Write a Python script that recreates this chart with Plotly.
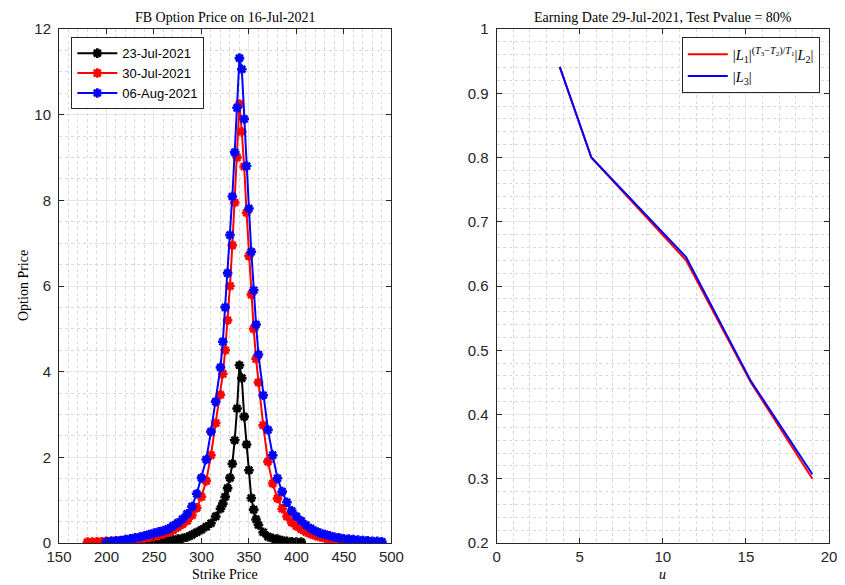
import plotly.graph_objects as go

# ---- left panel data: option prices vs strike ----
strike_0723 = [235, 240, 245, 250, 255, 260, 265, 270, 275, 280, 285, 290, 295, 300, 305, 310, 315,
               320, 322.5, 325, 327.5, 330, 332.5, 335, 337.5, 340, 342.5, 345, 347.5, 350, 352.5,
               355, 357.5, 360, 365, 370, 375, 380, 385, 390, 395, 400, 405]
price_0723 = [0.0, 0.01, 0.01, 0.02, 0.03, 0.04, 0.05, 0.07, 0.09, 0.11, 0.14, 0.19, 0.25, 0.31, 0.38,
              0.46, 0.62, 0.80, 0.92, 1.08, 1.28, 1.52, 1.85, 2.40, 3.14, 4.15, 3.85, 2.95, 2.30, 1.70,
              1.05, 0.78, 0.55, 0.42, 0.25, 0.15, 0.11, 0.09, 0.06, 0.04, 0.03, 0.02, 0.02]

strike_0730 = [180, 185, 190, 195, 200, 205, 210, 215, 220, 225, 230, 235, 240, 245, 250, 255, 260,
               265, 270, 275, 280, 285, 290, 295, 300, 305, 310, 315, 320, 322.5, 325, 327.5, 330,
               332.5, 335, 337.5, 340, 342.5, 345, 347.5, 350, 352.5, 355, 357.5, 360, 365, 370,
               375, 380, 385, 390, 395, 400, 405, 410, 415, 420, 425, 430, 435, 440, 445, 450, 455,
               460, 465, 470, 475, 480]
price_0730 = [0.02, 0.02, 0.03, 0.03, 0.04, 0.04, 0.05, 0.05, 0.06, 0.07, 0.08, 0.10, 0.11, 0.13,
              0.15, 0.18, 0.21, 0.25, 0.30, 0.37, 0.44, 0.52, 0.65, 0.82, 1.08, 1.45, 2.05, 2.80,
              3.46, 3.95, 4.50, 5.20, 6.00, 6.95, 7.95, 9.00, 10.25, 9.60, 8.79, 7.71, 6.70, 5.80,
              5.00, 4.30, 3.75, 2.75, 1.90, 1.39, 1.04, 0.80, 0.62, 0.48, 0.39, 0.32, 0.26, 0.21,
              0.17, 0.14, 0.11, 0.09, 0.08, 0.06, 0.05, 0.04, 0.03, 0.03, 0.02, 0.02, 0.01]

strike_0806 = [200, 205, 210, 215, 220, 225, 230, 235, 240, 245, 250, 255, 260, 265, 270, 275, 280,
               285, 290, 295, 300, 305, 310, 315, 320, 322.5, 325, 327.5, 330, 332.5, 335, 337.5,
               340, 342.5, 345, 347.5, 350, 352.5, 355, 357.5, 360, 365, 370, 375, 380, 385, 390,
               395, 400, 405, 410, 415, 420, 425, 430, 435, 440, 445, 450, 455, 460, 465, 470, 475,
               480, 485, 490]
price_0806 = [0.03, 0.04, 0.05, 0.06, 0.08, 0.10, 0.12, 0.14, 0.17, 0.20, 0.23, 0.26, 0.29, 0.33,
              0.40, 0.47, 0.56, 0.68, 0.85, 1.15, 1.52, 1.95, 2.60, 3.30, 4.10, 4.70, 5.50, 6.30,
              7.19, 8.09, 9.12, 10.16, 11.32, 11.06, 9.90, 8.80, 7.81, 6.80, 5.90, 5.10, 4.40,
              3.45, 2.64, 2.05, 1.51, 1.20, 0.95, 0.75, 0.62, 0.52, 0.42, 0.34, 0.28, 0.23, 0.20,
              0.17, 0.14, 0.12, 0.10, 0.09, 0.08, 0.07, 0.06, 0.05, 0.04, 0.04, 0.03]

# ---- right panel data ----
u_vals = [3.8, 5.7, 11.4, 15.3, 19.0]
l1_l2 = [0.941, 0.80, 0.64, 0.45, 0.30]
l3 = [0.941, 0.80, 0.645, 0.452, 0.307]

fig = go.Figure()


def add_option(x, y, color, name):
    fig.add_trace(go.Scatter(
        x=x, y=y, name=name, mode="lines+markers",
        line=dict(color=color, width=2),
        marker=dict(symbol="asterisk-open", size=8, color=color, line=dict(color=color, width=2.6)),
        xaxis="x", yaxis="y", legend="legend"))


add_option(strike_0723, price_0723, "black", "23-Jul-2021")
add_option(strike_0730, price_0730, "red", "30-Jul-2021")
add_option(strike_0806, price_0806, "blue", "06-Aug-2021")

fig.add_trace(go.Scatter(
    x=u_vals, y=l1_l2, mode="lines", line=dict(color="red", width=2),
    name="|<i>L</i><sub>1</sub>|<sup>(<i>T</i><sub>3</sub>−<i>T</i><sub>2</sub>)/<i>T</i><sub>1</sub></sup>|<i>L</i><sub>2</sub>|",
    xaxis="x2", yaxis="y2", legend="legend2"))
fig.add_trace(go.Scatter(
    x=u_vals, y=l3, mode="lines", line=dict(color="blue", width=2),
    name="|<i>L</i><sub>3</sub>|",
    xaxis="x2", yaxis="y2", legend="legend2"))

axis_common = dict(
    showline=True, linecolor="#262626", linewidth=1, mirror="allticks",
    ticks="inside", ticklen=5, tickcolor="#262626",
    showgrid=True, gridcolor="#e6e6e6", gridwidth=1, zeroline=False,
    tickfont=dict(family="Liberation Sans, Arial", size=15, color="#262626"),
)


def minor(dtick):
    return dict(dtick=dtick, showgrid=True, gridcolor="#d9d9d9", griddash="dot", gridwidth=1, ticks="")


sans = "Liberation Sans, Arial"
serif = "Liberation Serif, Times New Roman"

# the page body pushes the figure 8px down, so height and top margin are reduced by 8
fig.update_layout(
    width=845, height=577,
    margin=dict(l=51, r=11, t=21, b=42),
    paper_bgcolor="white", plot_bgcolor="white",
    showlegend=True,
    xaxis=dict(domain=[0, 0.4317], range=[150, 500], dtick=50, minor=minor(10), anchor="y", **axis_common),
    yaxis=dict(domain=[0, 1], range=[0, 12], dtick=2, minor=minor(0.5), anchor="x",
               ticklabelstandoff=4, **axis_common),
    xaxis2=dict(domain=[0.5683, 1], range=[0, 20], dtick=5, minor=minor(1), anchor="y2", **axis_common),
    yaxis2=dict(domain=[0, 1], range=[0.2, 1], dtick=0.1, minor=minor(0.02), anchor="x2",
                tickformat=".1~f", ticklabelstandoff=4, **axis_common),
    legend=dict(x=0.016, y=0.984, xanchor="left", yanchor="top",
                bgcolor="white", bordercolor="#262626", borderwidth=1,
                font=dict(family=sans, size=13, color="black"), tracegroupgap=0, itemwidth=40),
    legend2=dict(x=0.988, y=0.984, xanchor="right", yanchor="top",
                 bgcolor="white", bordercolor="#262626", borderwidth=1,
                 font=dict(family=serif, size=14.5, color="black"), itemwidth=40),
    annotations=[
        dict(text="FB Option Price on 16-Jul-2021", xref="paper", yref="paper", x=0.2158, y=1,
             yshift=2, xanchor="center", yanchor="bottom", showarrow=False,
             font=dict(family=serif, size=14, color="black")),
        dict(text="Earning Date 29-Jul-2021, Test Pvalue = 80%", xref="paper", yref="paper",
             x=0.784, y=1, yshift=2, xanchor="center", yanchor="bottom", showarrow=False,
             font=dict(family=serif, size=14, color="black")),
        dict(text="Strike Price", xref="paper", yref="paper", x=0.2158, y=0, yshift=-22,
             xanchor="center", yanchor="top", showarrow=False,
             font=dict(family=serif, size=14, color="black")),
        dict(text="<i>u</i>", xref="paper", yref="paper", x=0.784, y=0, yshift=-22,
             xanchor="center", yanchor="top", showarrow=False,
             font=dict(family=serif, size=14, color="black")),
        dict(text="Option Price", xref="paper", yref="paper", x=0, y=0.5, xshift=-36,
             xanchor="center", yanchor="middle", textangle=-90, showarrow=False,
             font=dict(family=serif, size=14, color="black")),
    ],
)

fig.write_html("out.html")
